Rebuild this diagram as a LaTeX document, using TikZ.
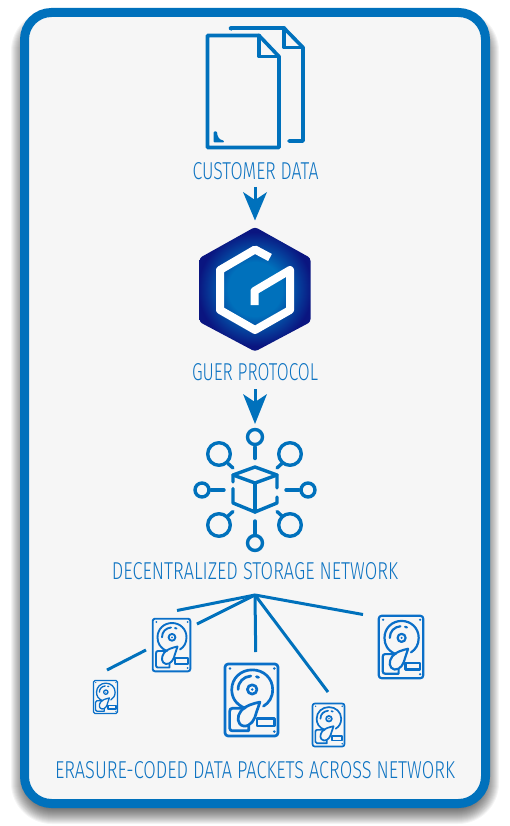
\documentclass[tikz,border=0pt]{standalone}
\usepackage{fontspec}
\usepackage{graphicx}
\setmainfont{Fira Sans Light}
\definecolor{gblue}{HTML}{0071BC}
\definecolor{dblue}{HTML}{0A6FC8}
\definecolor{tblue}{HTML}{0F74C2}
\definecolor{panel}{HTML}{F6F6F6}
\definecolor{navy}{HTML}{0A1580}
\pgfdeclareradialshading{hexshade}{\pgfpoint{0cm}{0cm}}{
  color(0bp)=(gblue); color(9bp)=(gblue); color(14bp)=(navy!50!gblue); color(19bp)=(navy); color(25bp)=(navy)}
\tikzset{
  frameline/.style={draw=gblue,line width=9pt,fill=panel,rounded corners=27pt},
  icon/.style={draw=gblue,line width=3.4pt,line cap=round,line join=round},
  docline/.style={draw=gblue,line width=3.6pt,line cap=round,line join=round},
  spoke/.style={draw=gblue,line width=3pt},
  gline/.style={draw=white,line width=8pt,line join=round},
  arrowstem/.style={draw=gblue,line width=3pt},
  arrowhd/.style={fill=gblue,draw=none},
  lbl/.style={inner sep=0pt,outer sep=0pt,text=tblue}
}
% \hdd{x}{y}{w}{h}{line width}
\newcommand{\hdd}[5]{%
\begin{scope}[shift={(#1,#2)},x=#3pt/39,y=-#4pt/54,line width=#5pt,draw=dblue,line cap=round,line join=round]
  \draw[rounded corners=#5pt*1.2] (0.7,0.7) rectangle (38.3,53.3);
  \fill[dblue] (4.3,4) circle[radius=1] (35.7,4) circle[radius=1] (35.7,50) circle[radius=1];
  \draw (15,33) .. controls (8,30) and (5.5,25) .. (5.5,19.3) .. controls (5.5,11) and (12,5) .. (20,5) .. controls (28,5) and (34.5,11) .. (34.5,19.3) .. controls (34.5,25) and (32,29) .. (28,31.5);
  \draw (10,19.3) .. controls (10,13.5) and (14,10) .. (19,9.5);
  \draw (23,10) -- (24.5,10.5);
  \draw (20,19.3) circle[radius=3.4];
  \fill[dblue] (20,19.3) circle[radius=1];
  \draw (25.5,28.5) .. controls (21,29.5) and (15,31) .. (12,35) .. controls (9,39) and (9,45) .. (14,46) .. controls (19,46.5) and (22,41) .. (23,36) -- cycle;
  \draw (13,33) -- (6,33) .. controls (4.5,33) and (4,34) .. (4,35.5) -- (4,47.5) .. controls (4,49) and (5,49.5) .. (6,49.5) -- (17.5,49.5) -- (17.5,46);
  \draw (23.3,40.3) rectangle (35.7,46);
\end{scope}}
\begin{document}
\begin{tikzpicture}[x=1pt,y=-1pt]
\useasboundingbox (0,0) rectangle (510,826);
\fill[white] (0,0) rectangle (510,826);
% shadow
\foreach \e in {-9,-8,...,9}{
  \pgfmathsetmacro{\ra}{max(32+\e,5)}
  \fill[black,opacity=.045,rounded corners=\ra pt] (20-\e,19-\e) rectangle (490+\e,815+\e);
}
% frame
\draw[frameline] (24.5,12.5) rectangle (485.5,803.5);

% documents
\draw[docline] (231,29) -- (230.5,28) -- (284,28) -- (303,47.5) -- (303,141) -- (289,141);
\draw[docline] (284,28) -- (284,47.5) -- (303,47.5);
\draw[docline,fill=panel] (207.5,35.5) -- (259,35.5) -- (279,56.5) -- (279,147.5) -- (207.5,147.5) -- cycle;
\draw[docline] (259,35.5) -- (259,56.5) -- (279,56.5);
\draw[gblue,fill=gblue,line width=2pt,line join=round] (214.5,132.5) -- (214.5,141.5) -- (223,141.5) .. controls (218,140.5) and (216.5,137) .. (216,132.5) -- cycle;
\node[lbl] (customer) at (255.5,171.5) {\resizebox{126pt}{17pt}{CUSTOMER DATA}};

% arrow 1
\coordinate (a1s) at (255,187);
\coordinate (a1e) at (255,202);
\draw[arrowstem] (a1s) -- (a1e);
\fill[arrowhd] (243,192) -- (255,200) -- (267,192) -- (255,220.5) -- cycle;

% hexagon
\begin{scope}
  \clip[rounded corners=3pt] (255,227) -- (310.5,258) -- (310.5,322) -- (255,351.5) -- (199.5,322) -- (199.5,258) -- cycle;
  \shade[shading=hexshade] (180,214) rectangle (330,364);
\end{scope}
\draw[gline] (270,257.5) -- (255,249.5) -- (220,270) -- (220,310) -- (255,330) -- (290,310) -- (290,270) -- (254.5,291) -- (254.5,305);
\node[lbl] (guer) at (255,372.5) {\resizebox{126pt}{17pt}{GUER PROTOCOL}};

% arrow 2
\coordinate (a2s) at (255,389);
\coordinate (a2e) at (255,404);
\draw[arrowstem] (a2s) -- (a2e);
\fill[arrowhd] (243,394) -- (255,402) -- (267,394) -- (255,424) -- cycle;

% network icon
\draw[icon] (255,437) circle[radius=7.5];
\draw[icon] (255,447) -- (255,458.5);
\draw[icon] (255,543) circle[radius=7.5];
\draw[icon] (255,521) -- (255,533.5);
\draw[icon] (202,490) circle[radius=7];
\draw[icon] (211,490) -- (224,490);
\draw[icon] (308,490) circle[radius=7];
\draw[icon] (286,490) -- (299,490);
\draw[icon] (219,454) circle[radius=11.3];
\draw[icon] (228,463.5) -- (233,468);
\draw[icon] (290,454) circle[radius=11.3];
\draw[icon] (282,463.5) -- (277,468);
\draw[icon] (219,525) circle[radius=11.3];
\draw[icon] (228,516) -- (233,511.5);
\draw[icon] (290,525) circle[radius=11.3];
\draw[icon] (282,516) -- (277,511.5);
\draw[icon] (233,482) -- (233,475) -- (255,467) -- (277,475) -- (277,488);
\draw[icon] (233,475) -- (255,483) -- (277,475);
\draw[icon] (255,483) -- (255,512);
\draw[icon] (233,488.5) -- (233,503) -- (255,512) -- (277,503) -- (277,497);
\node[lbl] (dsn) at (255,571) {\resizebox{286pt}{17pt}{DECENTRALIZED STORAGE NETWORK}};

% spokes
\coordinate (hub) at (255,595);
\coordinate (s1) at (177,610.5);
\coordinate (s2) at (197,624);
\coordinate (s3) at (255.7,652);
\coordinate (s4) at (328,692);
\coordinate (s5) at (363,614.5);
\coordinate (s6) at (146,650);
\coordinate (s7) at (107,670);
\draw[spoke] (hub) -- (s1);
\draw[spoke] (hub) -- (s2);
\draw[spoke] (hub) -- (s3);
\draw[spoke] (hub) -- (s4);
\draw[spoke] (hub) -- (s5);
\draw[spoke] (s6) -- (s7);

% drives
\hdd{152}{618}{39}{54}{1.9}
\hdd{93}{680}{25}{34}{1.3}
\hdd{224}{663}{55}{74}{2.7}
\hdd{378}{615}{46}{64}{2.2}
\hdd{312}{703}{33}{44}{1.7}

\node[lbl] (erasure) at (255,770.5) {\resizebox{400pt}{17pt}{ERASURE-CODED DATA PACKETS ACROSS NETWORK}};
\end{tikzpicture}
\end{document}
